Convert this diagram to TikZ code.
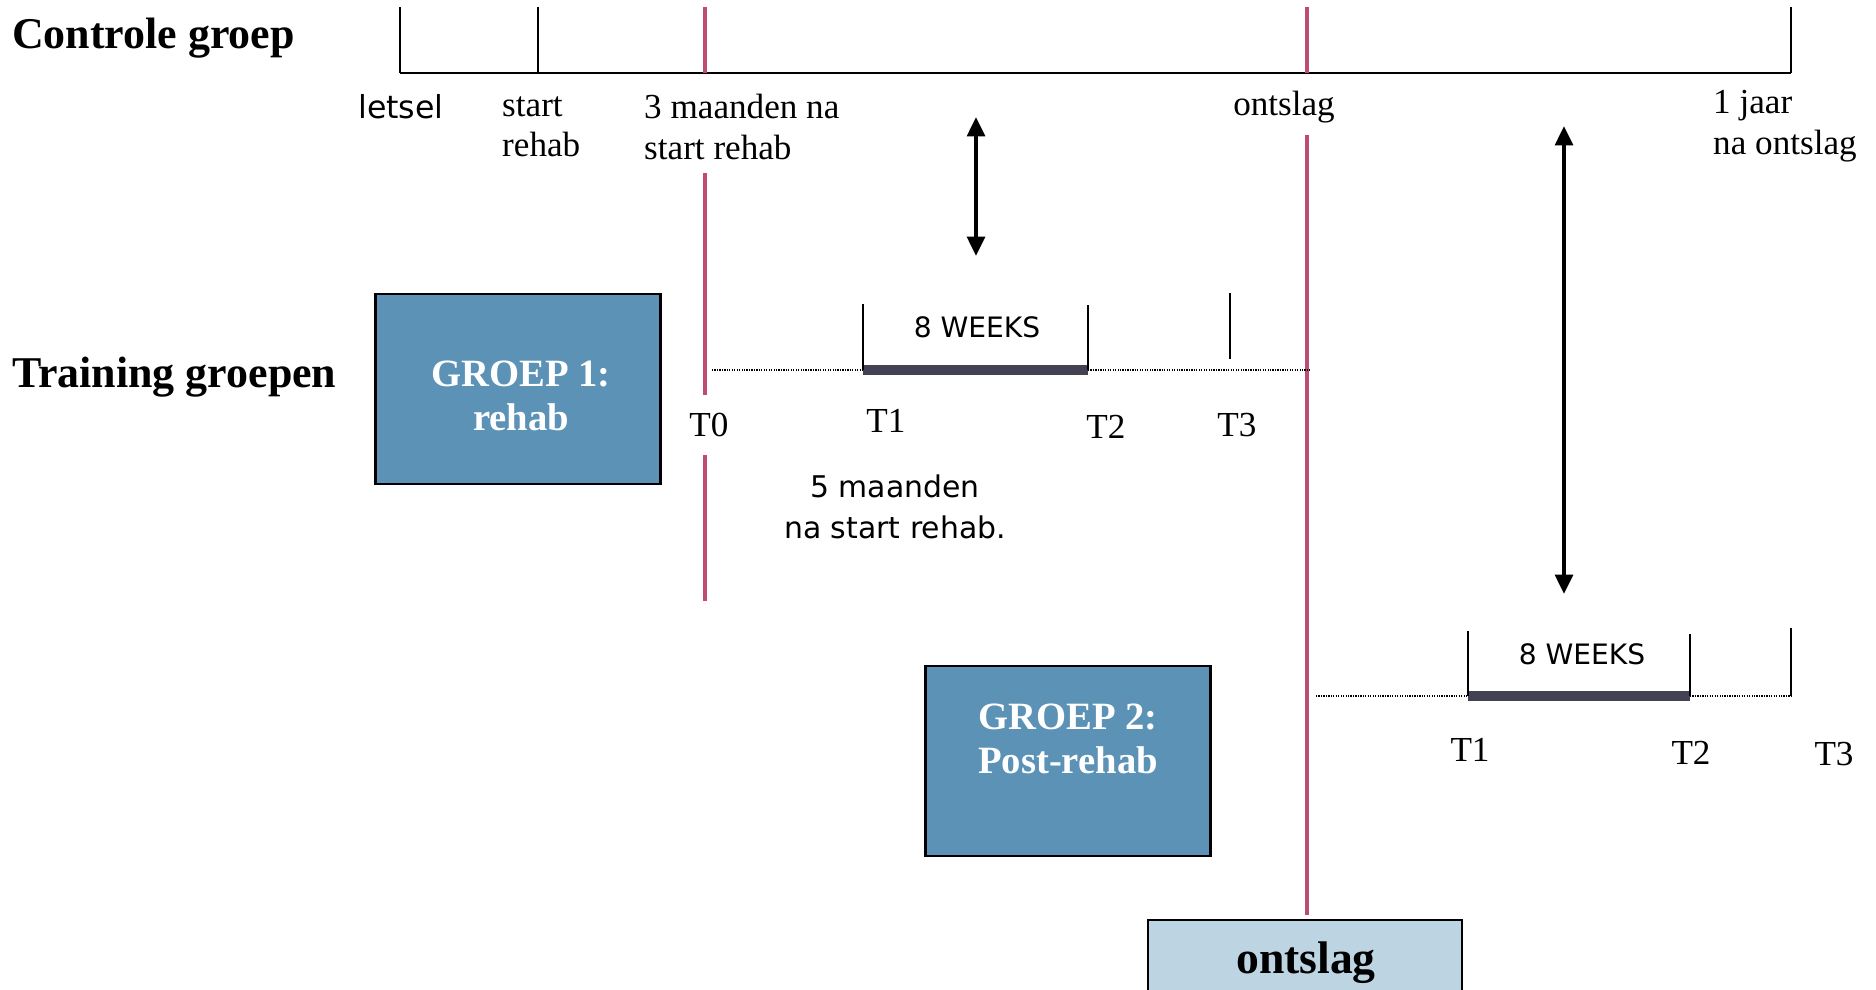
\documentclass[tikz,border=0pt]{standalone}
\usepackage{fontspec}
\setmainfont{Liberation Serif}
\newfontfamily\verdana{DejaVu Sans}
\usetikzlibrary{arrows.meta}

\definecolor{roodlijn}{RGB}{190,75,115}
\definecolor{groepblauw}{RGB}{91,146,182}
\definecolor{ontslagblauw}{RGB}{189,212,226}
\definecolor{balkgrijs}{RGB}{66,66,84}

\begin{document}
\begin{tikzpicture}[x=0.02cm,y=-0.02cm]
		\tikzset{tick/.style = {line width=0.8pt},
			rood/.style = {draw=roodlijn, line width=2.8pt},
			groep/.style = {draw, line width=1.4pt, fill=groepblauw, text=white, font=\fontsize{22}{25}\selectfont\bfseries, align=center},
			kop/.style = {anchor=west, font=\fontsize{25}{29}\selectfont\bfseries},
			lbl/.style = {font=\fontsize{20}{23}\selectfont, align=left},
			tlbl/.style = {font=\fontsize{20}{23}\selectfont},
			sans/.style = {font=\verdana\fontsize{16}{22.4}\selectfont, align=center},
			pijl/.style = {line width=2.3pt, {Triangle[length=11pt,width=10pt]}-{Triangle[length=11pt,width=10pt]}},
			stip/.style = {line width=0.7pt, dash pattern=on 0.7pt off 0.7pt},
			balk/.style = {draw=balkgrijs, line width=5.4pt}}

		\useasboundingbox (0,0) rectangle (1876,990);
		\clip (0,0) rectangle (1876,990);

		% controle groep
		\node[kop] (controle) at (6,38) {Controle groep};

		\coordinate (L0) at (400,73);
		\coordinate (L0top) at (400,7);
		\coordinate (L1) at (538,73);
		\coordinate (L1top) at (538,7);
		\coordinate (L2) at (705,73);
		\coordinate (L2top) at (705,7);
		\coordinate (L3) at (1307,73);
		\coordinate (L3top) at (1307,7);
		\coordinate (L4) at (1791,73);
		\coordinate (L4top) at (1791,7);

		\draw[line width=1.7pt] (L0)--(L4);
		\draw[tick] (L0top)--(L0);
		\draw[tick] (L1top)--(L1);
		\draw[tick] (L4top)--(L4);
		\draw[rood] (L2top)--(L2);
		\draw[rood] (L3top)--(L3);

		\node[font=\verdana\fontsize{18}{20}\selectfont] (letsel) at (401,107) {letsel};
		\node[lbl, anchor=west] (startrehab) at (496,127) {start\\rehab};
		\node[lbl, anchor=west] (drie) at (638,127) {3 maanden na\\start rehab};
		\node[lbl] (ontslaglbl) at (1284,107) {ontslag};
		\node[lbl, anchor=west] (jaar) at (1707,126) {1 jaar\\na ontslag};

		% rode lijnen
		\coordinate (R1a) at (705,173);
		\coordinate (R1b) at (705,395);
		\coordinate (R1c) at (705,455);
		\coordinate (R1d) at (705,601);
		\coordinate (R2a) at (1307,135);
		\coordinate (R2b) at (1307,915);
		\draw[rood] (R1a)--(R1b);
		\draw[rood] (R1c)--(R1d);
		\draw[rood] (R2a)--(R2b);

		%arrows
		\coordinate (P1a) at (976,117);
		\coordinate (P1b) at (976,256);
		\coordinate (P2a) at (1564,126);
		\coordinate (P2b) at (1564,594);
		\draw[pijl] (P1a)--(P1b);
		\draw[pijl] (P2a)--(P2b);

		% groep 1
		\node[kop] (training) at (6,377) {Training groepen};
		\node[groep, minimum width=162pt, minimum height=108pt] (G1) at (518,389) {};
		\node[groep, draw=none, fill=none] (G1txt) at (521,396) {GROEP 1:\\rehab};

		\coordinate (A_0) at (712,370);
		\coordinate (A_1) at (863,370);
		\coordinate (A_1top) at (863,304);
		\coordinate (A_2) at (1088,370);
		\coordinate (A_2top) at (1088,305);
		\coordinate (A_3) at (1230,359);
		\coordinate (A_3top) at (1230,293);
		\coordinate (A_4) at (1310,370);

		\draw[stip] (A_0)--(A_1);
		\draw[stip] (A_2)--(A_4);
		\draw[balk] (A_1)--(A_2);
		\draw[tick] (A_1top)--(A_1);
		\draw[tick] (A_2top)--(A_2);
		\draw[tick] (A_3top)--(A_3);

		\node[sans] (weken1) at (977,327) {8 WEEKS};
		\node[tlbl] (T0) at (709,425) {T0};
		\node[tlbl] (T1) at (886,421) {T1};
		\node[tlbl] (T2) at (1106,427) {T2};
		\node[tlbl] (T3) at (1237,425) {T3};
		\node[sans, font=\verdana\fontsize{17}{23}\selectfont] (vijf) at (895,507) {5 maanden\\na start rehab.};

		% groep 2
		\node[groep, minimum width=162pt, minimum height=108pt] (G2) at (1068,761) {};
		\node[groep, draw=none, fill=none] (G2txt) at (1068,739) {GROEP 2:\\Post-rehab};

		\coordinate (B_0) at (1316,696);
		\coordinate (B_1) at (1468,696);
		\coordinate (B_1top) at (1468,631);
		\coordinate (B_2) at (1690,696);
		\coordinate (B_2top) at (1690,634);
		\coordinate (B_3) at (1791,696);
		\coordinate (B_3top) at (1791,628);

		\draw[stip] (B_0)--(B_1);
		\draw[stip] (B_2)--(B_3);
		\draw[balk] (B_1)--(B_2);
		\draw[tick] (B_1top)--(B_1);
		\draw[tick] (B_2top)--(B_2);
		\draw[tick] (B_3top)--(B_3);

		\node[sans] (weken2) at (1582,654) {8 WEEKS};
		\node[tlbl] (U1) at (1470,750) {T1};
		\node[tlbl] (U2) at (1691,753) {T2};
		\node[tlbl] (U3) at (1834,754) {T3};

		% ontslag
		\node[draw, line width=1.4pt, fill=ontslagblauw, minimum width=179pt, minimum height=60pt, anchor=north] (ontslag) at (1305,919) {};
		\node[font=\fontsize{26}{30}\selectfont\bfseries] (ontslagtxt) at (1306,963) {ontslag};

	\end{tikzpicture}
\end{document}
